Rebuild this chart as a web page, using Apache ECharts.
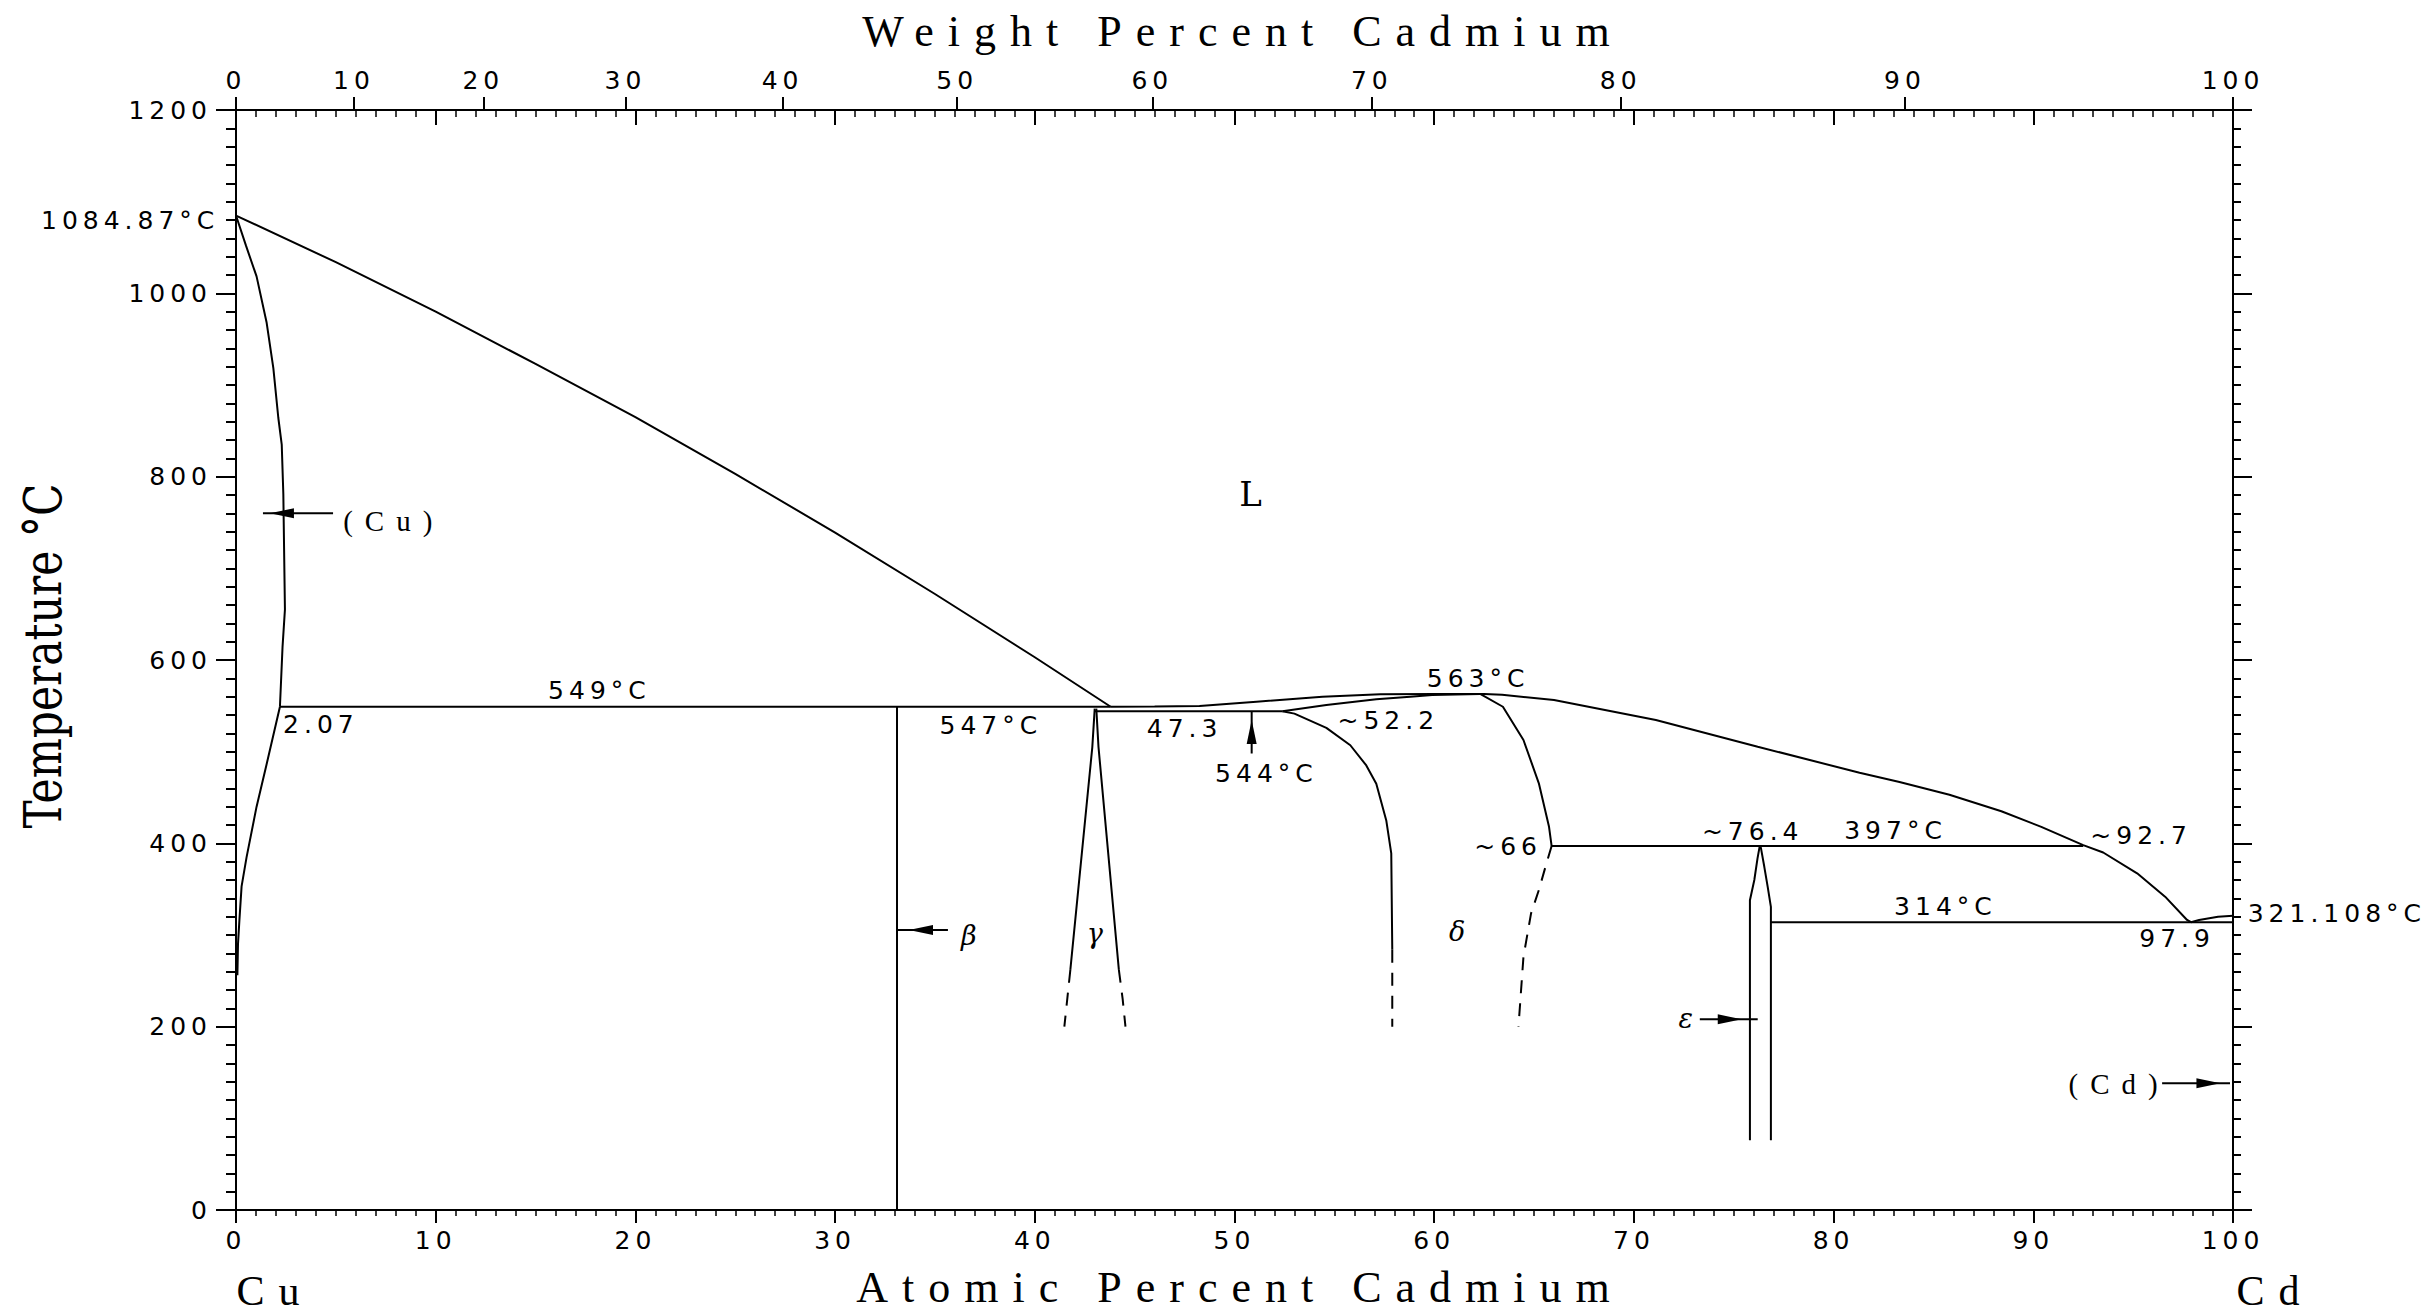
<!DOCTYPE html>
<html>
<head>
<meta charset="utf-8">
<script src="https://cdn.jsdelivr.net/npm/echarts@6/dist/echarts.min.js"></script>
<style>
html,body{margin:0;padding:0;background:#fff;}
#chart{width:2433px;height:1313px;}
text[style*="Liberation Serif"]{letter-spacing:14px;}
text[style*="29px"][style*="Liberation Serif"]{letter-spacing:12px;}
text[style*="DejaVu Sans"]{letter-spacing:5px;}
</style>
</head>
<body>
<div id="chart"></div>
<script>
// ---------------- data (atomic % Cd, temperature °C) ----------------
const CU_MASS = 63.546, CD_MASS = 112.41;
const weightTicks = [0, 10, 20, 30, 40, 50, 60, 70, 80, 90, 100];

const liquidusCuSide = [[0,1084.87],[5,1034],[10,980],[15,923],[20,865],[25,803],[30,739],[35,672],[40,603],[43.8,549]];
const solidusCu = [[0,1084.87],[0.5,1052],[1.03,1018.5],[1.53,968.5],[1.87,918.4],[2.12,864],[2.29,835],[2.37,781],[2.45,655],[2.33,614],[2.2,549]];
const solvusCu = [[2.2,549],[1.53,486],[1.03,440],[0.53,385],[0.28,353],[0.17,316],[0.1,290],[0.07,256]];
const peritectic549 = [[2.2,549],[43.8,549]];
const betaLine = [[33.1,549],[33.1,0]];
const gammaLeft = [[43.0,547],[42.88,505],[41.78,262]];
const gammaLeftDash = [[41.78,262],[41.48,200]];
const gammaRight = [[43.08,547],[43.19,505],[44.21,262]];
const gammaRightDash = [[44.21,262],[44.4,230],[44.54,200]];
const eutectic544 = [[43.0,544],[52.4,544]];
const liquidusCdSide = [[43.8,549],[46,549.2],[48.25,549.8],[51.1,554.5],[54.4,560],[57.3,562.6],[60,563],[62.5,563],[63.4,562],[66,556.3],[71.1,534.5],[76.2,505.4],[81.3,477],[83.3,467],[85.8,453],[88.4,435],[90.4,418],[92.5,398],[93.5,390],[95.2,367.3],[96.6,341.8],[97.7,316.4],[97.9,314]];
const deltaSolidus = [[52.4,544],[54.6,550.9],[57.1,557.1],[58.8,560],[59.9,561.8],[62.3,563]];
const deltaLeft = [[52.4,544],[53.0,541.5],[54.6,526],[55.8,507],[56.6,485],[57.1,465],[57.6,425],[57.85,389],[57.9,284]];
const deltaLeftDash = [[57.9,284],[57.9,200]];
const deltaRight = [[62.3,563],[63.44,549],[64.47,512.7],[65.24,465.5],[65.75,418],[65.88,397]];
const deltaRightDash = [[65.88,397],[65.62,378],[65.24,349],[64.85,323.6],[64.47,276.3],[64.22,200]];
const peritectic397 = [[65.88,397],[92.5,397]];
const epsilonLeft = [[76.3,397],[76.19,383.6],[76.03,360],[75.81,338],[75.81,76]];
const epsilonRight = [[76.3,397],[76.36,395],[76.53,374.4],[76.7,352.5],[76.86,330.7],[76.86,76]];
const eutectic314 = [[76.86,314],[100,314]];
const liquidusCd = [[97.9,314],[98.3,316.4],[99.25,320],[100,321.108]];

// annotation texts with their anchor (atomic %, °C)
const valueLabelText = ['1084.87°C','549°C','2.07','547°C','47.3','544°C','~52.2','563°C','~66','~76.4','397°C','~92.7','314°C','97.9','321.108°C'];
const valueLabelAt   = [-5.3, 18.2, 4.25, 37.8, 47.5, 51.6, 57.7, 62.2, 63.7, 75.95, 83.1, 95.4, 85.6, 97.2, 105.2];
const valueLabelT    = [1079, 566.7, 530, 529, 525.5, 476.4, 534.5, 580, 396.3, 412.7, 414.5, 409, 330.9, 296.4, 323.6];
const phaseLabelText = ['(Cu)', '(Cd)'];
const phaseLabelAt   = [7.9, 94.3];
const phaseLabelT    = [752, 138];
const greekLabelText = ['β', 'γ', 'δ', 'ε'];
const greekLabelAt   = [36.7, 43.0, 61.15, 72.6];
const greekLabelT    = [300, 302, 303.6, 209];
const liquidLabelText = ['L'];
const liquidLabelAt   = [50.8];
const liquidLabelT    = [781];

// arrows: start, end, arrow-tip (atomic %, °C)
const arrowStart = [[4.86,760],[35.65,305.4],[73.3,208],[96.45,138.2],[50.86,498]];
const arrowEnd   = [[1.35,760],[33.1,305.4],[76.2,208],[99.85,138.2],[50.86,544]];
const arrowTip   = [[1.7,760],[33.7,305.4],[75.4,208],[99.37,138.2],[50.86,534.5]];

// ---------------- chart ----------------
function toAtomic(w) {
  const a = w / CD_MASS, b = (100 - w) / CU_MASS;
  return 100 * a / (a + b);
}
const weightTickAt = weightTicks.map(toAtomic);

const BLACK = '#000';
function lineSeries(name, data, dashed) {
  return {
    name: name, type: 'line', data: data, symbol: 'none', showSymbol: false,
    lineStyle: { color: BLACK, width: 2, type: dashed ? [13, 10] : 'solid' },
    silent: true, clip: false, z: 5, animation: false
  };
}
function textSeries(name, texts, ats, temps, font) {
  return {
    name: name, type: 'custom', clip: false, silent: true, z: 20, animation: false,
    data: texts.map((t, i) => [ats[i], temps[i], i]),
    renderItem: function (params, api) {
      const p = api.coord([api.value(0), api.value(1)]);
      return {
        type: 'text', x: p[0], y: p[1],
        style: { text: texts[api.value(2)], font: font, fill: BLACK, align: 'center', verticalAlign: 'middle' }
      };
    }
  };
}
const arrowSeries = {
  name: 'arrows', type: 'custom', clip: false, silent: true, z: 15, animation: false,
  data: arrowStart.map((s, i) => [s[0], s[1], arrowEnd[i][0], arrowEnd[i][1], arrowTip[i][0], arrowTip[i][1]]),
  renderItem: function (params, api) {
    const a = api.coord([api.value(0), api.value(1)]);
    const b = api.coord([api.value(2), api.value(3)]);
    const t = api.coord([api.value(4), api.value(5)]);
    let dx = b[0] - a[0], dy = b[1] - a[1];
    const L = Math.hypot(dx, dy) || 1; dx /= L; dy /= L;
    const len = 24, w = 5;
    const bx = t[0] - dx * len, by = t[1] - dy * len;
    return {
      type: 'group', children: [
        { type: 'line', shape: { x1: a[0], y1: a[1], x2: b[0], y2: b[1] }, style: { stroke: BLACK, lineWidth: 2 } },
        { type: 'polygon', shape: { points: [[t[0], t[1]], [bx - dy * w, by + dx * w], [bx + dy * w, by - dx * w]] }, style: { fill: BLACK } }
      ]
    };
  }
};

const axisLineStyle = { color: BLACK, width: 2 };
const labelFont = { fontFamily: 'DejaVu Sans', fontSize: 25, color: BLACK };
const plainNumber = function (v) { return String(v); };

const option = {
  backgroundColor: '#fff',
  animation: false,
  grid: { left: 236, right: 200, top: 110, bottom: 103, containLabel: false, outerBoundsMode: 'none' },
  xAxis: [
    {
      type: 'value', min: 0, max: 100, interval: 10, position: 'bottom',
      axisLine: { show: true, onZero: false, lineStyle: axisLineStyle },
      axisTick: { show: true, inside: false, length: 13, lineStyle: { color: BLACK, width: 2 } },
      minorTick: { show: true, splitNumber: 10, length: 6, lineStyle: { color: BLACK, width: 1.5 } },
      axisLabel: Object.assign({ show: true, margin: 18, showMinLabel: true, showMaxLabel: true, hideOverlap: false, formatter: plainNumber }, labelFont),
      splitLine: { show: false }, minorSplitLine: { show: false }
    },
    {
      type: 'value', min: 0, max: 100, position: 'top',
      axisLine: { show: true, onZero: false, lineStyle: axisLineStyle },
      axisTick: { show: true, inside: false, length: 13, customValues: weightTickAt, lineStyle: { color: BLACK, width: 2 } },
      minorTick: { show: false },
      axisLabel: Object.assign({
        show: true, margin: 17, customValues: weightTickAt, hideOverlap: false,
        formatter: function (v) {
          let best = 0;
          for (let i = 0; i < weightTickAt.length; i++) {
            if (Math.abs(weightTickAt[i] - v) < Math.abs(weightTickAt[best] - v)) best = i;
          }
          return String(weightTicks[best]);
        }
      }, labelFont),
      splitLine: { show: false }
    },
    {
      type: 'value', min: 0, max: 100, interval: 10, position: 'top',
      axisLine: { show: false, onZero: false },
      axisTick: { show: true, inside: true, length: 15, lineStyle: { color: BLACK, width: 2 } },
      minorTick: { show: true, splitNumber: 10, length: 7, lineStyle: { color: BLACK, width: 1.5 } },
      axisLabel: { show: false },
      splitLine: { show: false }
    }
  ],
  yAxis: [
    {
      type: 'value', min: 0, max: 1200, interval: 200, position: 'left',
      axisLine: { show: true, onZero: false, lineStyle: axisLineStyle },
      axisTick: { show: true, inside: false, length: 20, lineStyle: { color: BLACK, width: 2 } },
      minorTick: { show: true, splitNumber: 10, length: 10, lineStyle: { color: BLACK, width: 2 } },
      axisLabel: Object.assign({ show: true, margin: 24, showMinLabel: true, showMaxLabel: true, hideOverlap: false, formatter: plainNumber }, labelFont),
      splitLine: { show: false }
    },
    {
      type: 'value', min: 0, max: 1200, interval: 200, position: 'right',
      axisLine: { show: true, onZero: false, lineStyle: axisLineStyle },
      axisTick: { show: true, inside: false, length: 19, lineStyle: { color: BLACK, width: 2 } },
      minorTick: { show: true, splitNumber: 10, length: 8, lineStyle: { color: BLACK, width: 2 } },
      axisLabel: { show: false },
      splitLine: { show: false }
    }
  ],
  graphic: [
    { type: 'text', x: 1243, y: 31, silent: true,
      style: { text: 'Weight Percent Cadmium', font: '44px "Liberation Serif"', fill: BLACK, align: 'center', verticalAlign: 'middle' } },
    { type: 'text', x: 1240, y: 1287, silent: true,
      style: { text: 'Atomic Percent Cadmium', font: '44px "Liberation Serif"', fill: BLACK, align: 'center', verticalAlign: 'middle' } },
    { type: 'text', x: 42, y: 656, rotation: Math.PI / 2, scaleX: 0.8, silent: true,
      style: { text: 'Temperature °C', font: '53px "DejaVu Serif"', fill: BLACK, align: 'center', verticalAlign: 'middle' } },
    { type: 'text', x: 275, y: 1291, silent: true,
      style: { text: 'Cu', font: '42px "Liberation Serif"', fill: BLACK, align: 'center', verticalAlign: 'middle' } },
    { type: 'text', x: 2275, y: 1291, silent: true,
      style: { text: 'Cd', font: '42px "Liberation Serif"', fill: BLACK, align: 'center', verticalAlign: 'middle' } }
  ],
  series: [
    lineSeries('liquidus Cu side', liquidusCuSide),
    lineSeries('solidus (Cu)', solidusCu),
    lineSeries('solvus (Cu)', solvusCu),
    lineSeries('549 °C', peritectic549),
    lineSeries('β', betaLine),
    lineSeries('γ left', gammaLeft),
    lineSeries('γ left dashed', gammaLeftDash, true),
    lineSeries('γ right', gammaRight),
    lineSeries('γ right dashed', gammaRightDash, true),
    lineSeries('544 °C', eutectic544),
    lineSeries('liquidus Cd side', liquidusCdSide),
    lineSeries('δ solidus', deltaSolidus),
    lineSeries('δ left', deltaLeft),
    lineSeries('δ left dashed', deltaLeftDash, true),
    lineSeries('δ right', deltaRight),
    lineSeries('δ right dashed', deltaRightDash, true),
    lineSeries('397 °C', peritectic397),
    lineSeries('ε left', epsilonLeft),
    lineSeries('ε right', epsilonRight),
    lineSeries('314 °C', eutectic314),
    lineSeries('liquidus (Cd)', liquidusCd),
    arrowSeries,
    textSeries('value labels', valueLabelText, valueLabelAt, valueLabelT, '25px "DejaVu Sans"'),
    textSeries('phase labels', phaseLabelText, phaseLabelAt, phaseLabelT, '29px "Liberation Serif"'),
    textSeries('greek labels', greekLabelText, greekLabelAt, greekLabelT, 'italic 27px "DejaVu Serif"'),
    textSeries('liquid label', liquidLabelText, liquidLabelAt, liquidLabelT, '34px "DejaVu Serif"')
  ]
};

const chart = echarts.init(document.getElementById('chart'), null, { renderer: 'svg', width: 2433, height: 1313 });
chart.setOption(option);
</script>
</body>
</html>
